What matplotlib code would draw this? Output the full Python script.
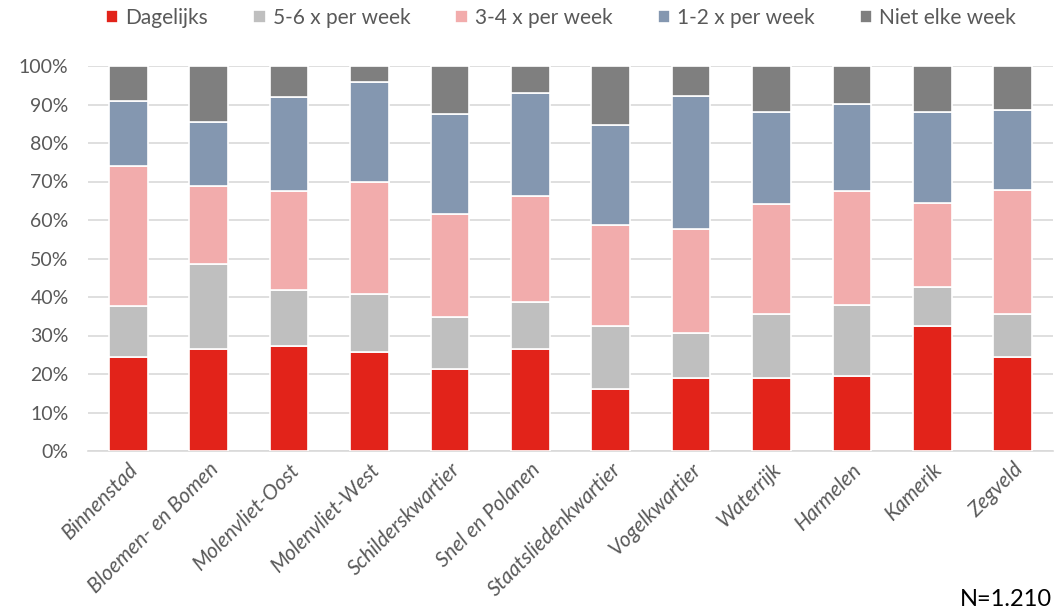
import matplotlib.pyplot as plt
import numpy as np

# data (percent)
wijken = ['Binnenstad', 'Bloemen- en Bomen', 'Molenvliet-Oost', 'Molenvliet-West',
          'Schilderskwartier', 'Snel en Polanen', 'Staatsliedenkwartier', 'Vogelkwartier',
          'Waterrijk', 'Harmelen', 'Kamerik', 'Zegveld']
series = ['Dagelijks', '5-6 x per week', '3-4 x per week', '1-2 x per week', 'Niet elke week']
dagelijks = [24.5, 26.5, 27.2, 25.7, 21.3, 26.5, 16.1, 19.0, 18.9, 19.6, 32.4, 24.4]
x56 = [13.1, 22.2, 14.6, 15.0, 13.4, 12.2, 16.3, 11.6, 16.6, 18.3, 10.1, 11.3]
x34 = [36.4, 20.1, 25.8, 29.1, 26.8, 27.6, 26.3, 27.0, 28.7, 29.7, 21.9, 32.1]
x12 = [16.8, 16.7, 24.3, 26.0, 26.0, 26.7, 26.0, 34.6, 23.8, 22.5, 23.6, 20.8]
niet = [9.2, 14.5, 8.1, 4.2, 12.5, 7.0, 15.3, 7.8, 12.0, 9.9, 12.0, 11.4]
kleuren = ['#E2231A', '#BFBFBF', '#F2ACAC', '#8497B0', '#7F7F7F']

plt.rcParams['font.family'] = ['Lato', 'DejaVu Sans']

fig = plt.figure(figsize=(10.56, 6.13), dpi=100)
ax = fig.add_axes([88/1056, 1-451/613, (1053-88)/1056, (451-66)/613])

x = np.arange(len(wijken))
bottom = np.zeros(len(wijken))
for naam, vals, kl in zip(series, [dagelijks, x56, x34, x12, niet], kleuren):
    vals = np.array(vals)
    ax.bar(x, vals, 0.48, bottom=bottom, color=kl, edgecolor='white', linewidth=1.2,
           label=naam, zorder=3)
    bottom += vals

ax.set_ylim(0, 100)
ax.set_xlim(-0.5, len(wijken) - 0.5)
ax.set_yticks(np.arange(0, 101, 10))
ax.set_yticklabels([f'{v}%' for v in range(0, 101, 10)])
ax.yaxis.grid(True, color='#D9D9D9', linewidth=1.2, zorder=0)
for s in ['top', 'right', 'left']:
    ax.spines[s].set_visible(False)
ax.spines['bottom'].set_color('#D9D9D9')
ax.spines['bottom'].set_linewidth(1.2)
ax.tick_params(axis='both', length=0, colors='#595959')
ax.tick_params(axis='y', pad=14, labelsize=14)
ax.tick_params(axis='x', pad=6, labelsize=15)
ax.set_xticks(x)
ax.set_xticklabels(wijken, rotation=45, ha='right', rotation_mode='anchor',
                   style='italic', color='#595959')

fig.legend(loc='center', bbox_to_anchor=(561/1056, 1-18/613), ncol=5, frameon=False,
           fontsize=15, handlelength=0.6, handleheight=0.6, handletextpad=0.35,
           columnspacing=2.15, labelcolor='#595959')

fig.text(1052/1056, 1-600/613, 'N=1.210', ha='right', va='center', fontsize=17, color='black')

fig.savefig('out.png', dpi=100)
